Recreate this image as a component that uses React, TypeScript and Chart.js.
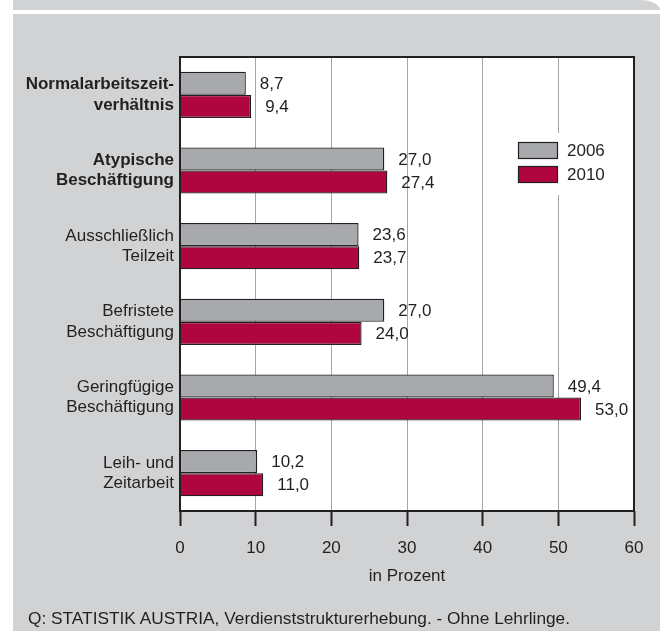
import React, { useEffect, useRef } from 'react';
import { Chart, registerables } from 'chart.js';

Chart.register(...registerables);

// ---- Data ----
const categories: string[][] = [
  ['Normalarbeitszeit-', 'verhältnis'],
  ['Atypische', 'Beschäftigung'],
  ['Ausschließlich', 'Teilzeit'],
  ['Befristete', 'Beschäftigung'],
  ['Geringfügige', 'Beschäftigung'],
  ['Leih- und', 'Zeitarbeit'],
];
const boldCategories = [true, true, false, false, false, false];
const seriesLabels = ['2006', '2010'];
const values2006 = [8.7, 27.0, 23.6, 27.0, 49.4, 10.2];
const values2010 = [9.4, 27.4, 23.7, 24.0, 53.0, 11.0];
const xMin = 0;
const xMax = 60;
const xStep = 10;
const xTitle = 'in Prozent';
const sourceNote = 'Q: STATISTIK AUSTRIA, Verdienststrukturerhebung. - Ohne Lehrlinge.';

// ---- Styles ----
const FONT = "'Liberation Sans', Arial, sans-serif";
const TEXT = '#231f20';
const PANEL = '#d1d2d4';
const GRAY_BAR = '#a7a9ac';
const RED_BAR = '#b0063f';
const fmt = (v: number) => v.toFixed(1).replace('.', ',');

const plotBg = {
  id: 'plotBg',
  beforeDraw(chart: any) {
    const { ctx, chartArea: a } = chart;
    ctx.save();
    ctx.fillStyle = '#ffffff';
    ctx.fillRect(a.left, a.top, a.right - a.left, a.bottom - a.top);
    ctx.restore();
  },
};

const valueLabels = {
  id: 'valueLabels',
  afterDatasetsDraw(chart: any) {
    const { ctx } = chart;
    ctx.save();
    ctx.font = `17px ${FONT}`;
    ctx.fillStyle = TEXT;
    ctx.textAlign = 'left';
    ctx.textBaseline = 'middle';
    chart.data.datasets.forEach((ds: any, di: number) => {
      const meta = chart.getDatasetMeta(di);
      meta.data.forEach((el: any, i: number) => {
        ctx.fillText(fmt(ds.data[i]), el.x + 14, el.y + 1);
      });
    });
    ctx.restore();
  },
};

const frameAndLegend = {
  id: 'frameAndLegend',
  afterDraw(chart: any) {
    const { ctx, chartArea: a } = chart;
    ctx.save();
    // legend panel (interrupts grid)
    const lx = 518;
    const ly = 142;
    ctx.fillStyle = '#ffffff';
    ctx.fillRect(lx - 12, ly - 9, 112, 62);
    chart.data.datasets.forEach((ds: any, i: number) => {
      const y = ly + i * 24;
      ctx.fillStyle = ds.backgroundColor;
      ctx.fillRect(lx, y, 40, 17);
      ctx.strokeStyle = TEXT;
      ctx.lineWidth = 1.2;
      ctx.strokeRect(lx + 0.5, y + 0.5, 39, 16);
      ctx.fillStyle = TEXT;
      ctx.font = `17px ${FONT}`;
      ctx.textAlign = 'left';
      ctx.textBaseline = 'middle';
      ctx.fillText(ds.label, lx + 49, y + 9);
    });
    // frame
    ctx.strokeStyle = TEXT;
    ctx.lineWidth = 2;
    ctx.strokeRect(a.left, a.top, a.right - a.left, a.bottom - a.top);
    ctx.restore();
  },
};

export default function App() {
  const ref = useRef<HTMLCanvasElement | null>(null);

  useEffect(() => {
    if (!ref.current) return;
    const chart = new Chart(ref.current, {
      type: 'bar',
      data: {
        labels: categories,
        datasets: [
          {
            label: seriesLabels[0],
            data: values2006,
            backgroundColor: GRAY_BAR,
            borderColor: TEXT,
            borderWidth: 1.3,
            barPercentage: 1,
            categoryPercentage: 0.61,
          },
          {
            label: seriesLabels[1],
            data: values2010,
            backgroundColor: RED_BAR,
            borderColor: TEXT,
            borderWidth: 1.3,
            barPercentage: 1,
            categoryPercentage: 0.61,
          },
        ],
      },
      options: {
        indexAxis: 'y',
        animation: false,
        responsive: false,
        maintainAspectRatio: false,
        layout: { padding: { left: 0, top: 57, right: 26, bottom: 0 } },
        plugins: {
          legend: { display: false },
          tooltip: { enabled: false },
        },
        scales: {
          x: {
            type: 'linear',
            min: xMin,
            max: xMax,
            ticks: {
              stepSize: xStep,
              color: TEXT,
              padding: 12,
              font: { family: FONT, size: 17 },
              callback: (v: any) => String(v),
            },
            grid: {
              color: '#a5a5a5',
              lineWidth: 1,
              drawTicks: true,
              tickLength: 15,
              tickColor: TEXT,
              tickWidth: 2,
            },
            border: { display: false },
            title: {
              display: true,
              text: xTitle,
              color: TEXT,
              font: { family: FONT, size: 17 },
              padding: { top: 0, bottom: 44 },
            },
            afterFit: (scale: any) => {
              scale.height = 120;
            },
          },
          y: {
            type: 'category',
            grid: { display: false, drawTicks: false },
            border: { display: false },
            ticks: {
              color: TEXT,
              padding: 6,
              font: (c: any) => ({
                family: FONT,
                size: 17,
                lineHeight: 1.18,
                weight: boldCategories[c.index] ? 'bold' : 'normal',
              }),
            },
            afterFit: (scale: any) => {
              scale.width = 180;
            },
          },
        },
      },
      plugins: [plotBg, valueLabels, frameAndLegend],
    } as any);
    return () => chart.destroy();
  }, []);

  return (
    <div style={{ position: 'absolute', left: 0, top: 0, width: 660, height: 631, background: '#ffffff', overflow: 'hidden' }}>
      <div
        style={{
          position: 'absolute',
          left: 13,
          top: 0,
          width: 647,
          height: 10,
          background: PANEL,
          borderTopRightRadius: '20px 10px',
        }}
      />
      <div style={{ position: 'absolute', left: 13, top: 14, width: 647, height: 617, background: PANEL }} />
      <canvas
        ref={ref}
        width={660}
        height={631}
        style={{ position: 'absolute', left: 0, top: 0, width: 660, height: 631 }}
      />
      <div
        style={{
          position: 'absolute',
          left: 28,
          top: 608,
          fontFamily: FONT,
          fontSize: 17.3,
          lineHeight: '20px',
          color: TEXT,
          whiteSpace: 'nowrap',
        }}
      >
        {sourceNote}
      </div>
    </div>
  );
}
